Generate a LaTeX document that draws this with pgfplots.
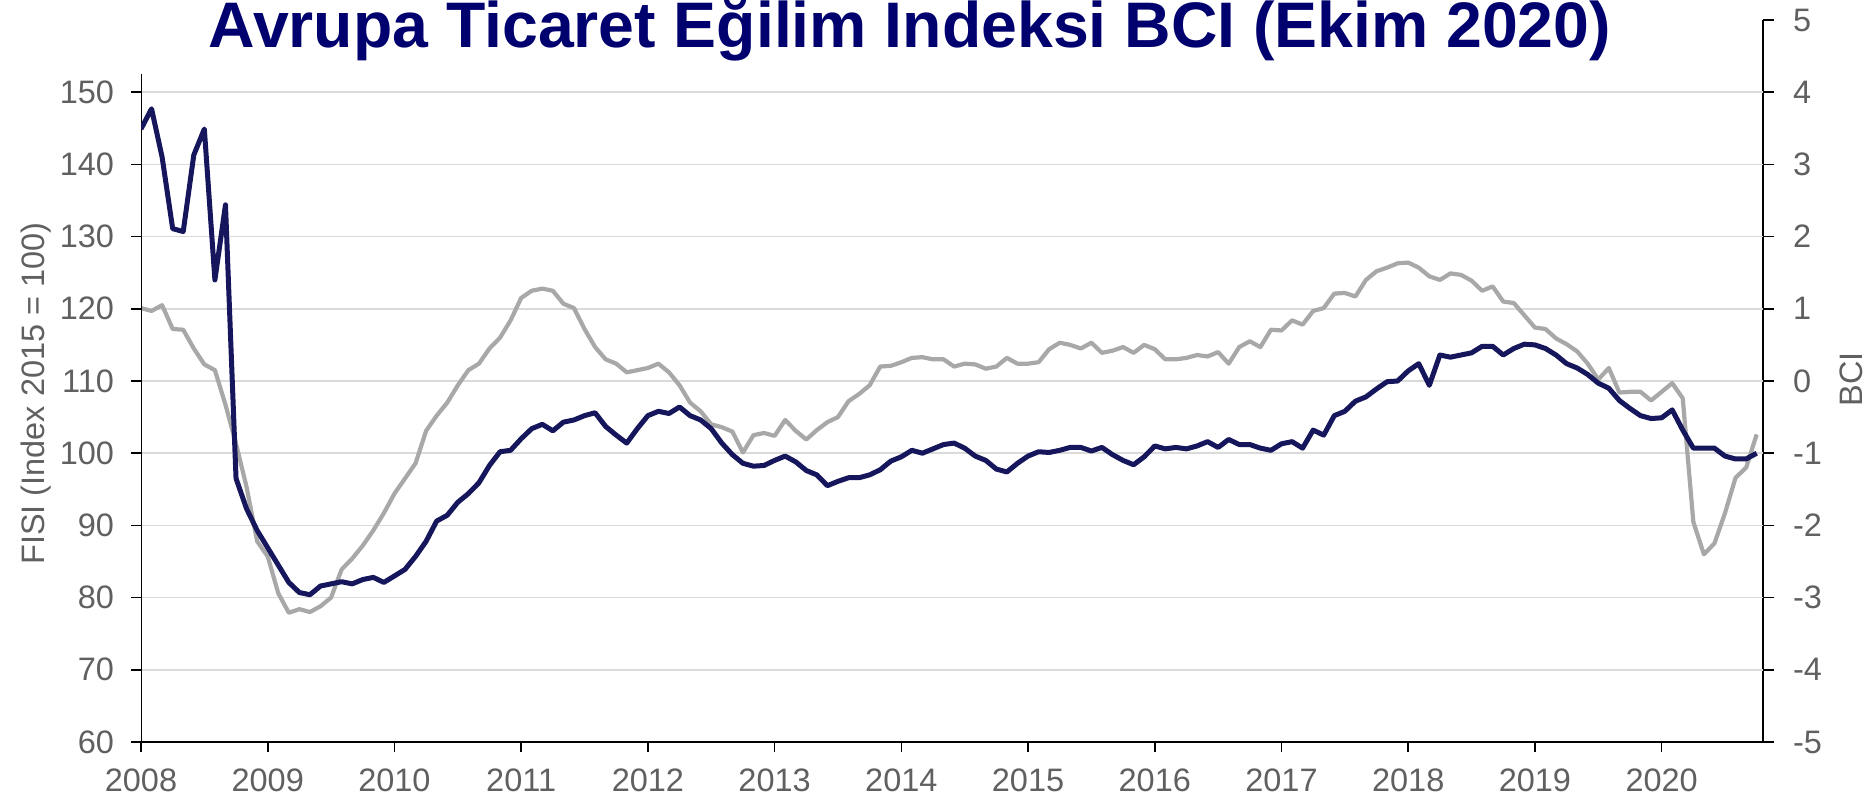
\documentclass[border=0pt]{standalone}
\usepackage{fontspec}
\setmainfont{Liberation Sans}
\usepackage{pgfplots}
\usepackage{pgfplotstable}
\pgfplotsset{compat=1.18}
\definecolor{navy}{RGB}{22,22,92}
\definecolor{bcigray}{RGB}{168,168,168}
\definecolor{gridgray}{RGB}{218,218,218}
\definecolor{ticktext}{RGB}{96,96,96}
\definecolor{titleblue}{RGB}{0,0,110}

\pgfplotstableread{
year m fisi bci
2008 1 144.9 1.01
2008 2 147.7 0.97
2008 3 141.0 1.05
2008 4 131.1 0.72
2008 5 130.7 0.71
2008 6 141.3 0.45
2008 7 144.9 0.23
2008 8 124.0 0.15
2008 9 134.4 -0.33
2008 10 96.5 -0.87
2008 11 92.3 -1.47
2008 12 89.3 -2.22
2009 1 86.9 -2.43
2009 2 84.5 -2.94
2009 3 82.1 -3.21
2009 4 80.7 -3.16
2009 5 80.4 -3.20
2009 6 81.6 -3.12
2009 7 81.9 -3.00
2009 8 82.2 -2.61
2009 9 81.9 -2.46
2009 10 82.5 -2.28
2009 11 82.8 -2.07
2009 12 82.1 -1.83
2010 1 83.0 -1.56
2010 2 83.9 -1.35
2010 3 85.7 -1.14
2010 4 87.8 -0.69
2010 5 90.6 -0.48
2010 6 91.4 -0.30
2010 7 93.2 -0.06
2010 8 94.4 0.15
2010 9 95.9 0.24
2010 10 98.3 0.45
2010 11 100.2 0.60
2010 12 100.4 0.84
2011 1 102.0 1.15
2011 2 103.4 1.25
2011 3 104.0 1.28
2011 4 103.1 1.25
2011 5 104.3 1.07
2011 6 104.6 1.01
2011 7 105.2 0.72
2011 8 105.6 0.47
2011 9 103.7 0.30
2011 10 102.5 0.24
2011 11 101.4 0.12
2011 12 103.4 0.15
2012 1 105.2 0.18
2012 2 105.8 0.24
2012 3 105.5 0.12
2012 4 106.4 -0.06
2012 5 105.2 -0.30
2012 6 104.6 -0.42
2012 7 103.4 -0.60
2012 8 101.4 -0.64
2012 9 99.8 -0.70
2012 10 98.6 -0.99
2012 11 98.2 -0.75
2012 12 98.3 -0.72
2013 1 99.0 -0.76
2013 2 99.6 -0.54
2013 3 98.8 -0.69
2013 4 97.6 -0.81
2013 5 97.0 -0.68
2013 6 95.5 -0.57
2013 7 96.1 -0.50
2013 8 96.6 -0.28
2013 9 96.6 -0.18
2013 10 97.0 -0.06
2013 11 97.7 0.20
2013 12 98.9 0.21
2014 1 99.5 0.26
2014 2 100.4 0.32
2014 3 100.0 0.33
2014 4 100.6 0.30
2014 5 101.2 0.30
2014 6 101.4 0.20
2014 7 100.7 0.24
2014 8 99.6 0.23
2014 9 99.0 0.17
2014 10 97.8 0.20
2014 11 97.4 0.32
2014 12 98.6 0.24
2015 1 99.6 0.24
2015 2 100.2 0.26
2015 3 100.1 0.44
2015 4 100.4 0.53
2015 5 100.8 0.50
2015 6 100.8 0.45
2015 7 100.3 0.53
2015 8 100.8 0.39
2015 9 99.8 0.42
2015 10 99.0 0.47
2015 11 98.4 0.39
2015 12 99.5 0.50
2016 1 101.0 0.44
2016 2 100.6 0.30
2016 3 100.8 0.30
2016 4 100.6 0.32
2016 5 101.0 0.36
2016 6 101.6 0.34
2016 7 100.8 0.40
2016 8 101.9 0.24
2016 9 101.2 0.47
2016 10 101.2 0.55
2016 11 100.7 0.47
2016 12 100.4 0.71
2017 1 101.3 0.70
2017 2 101.6 0.84
2017 3 100.7 0.78
2017 4 103.2 0.97
2017 5 102.5 1.01
2017 6 105.2 1.21
2017 7 105.8 1.22
2017 8 107.2 1.17
2017 9 107.8 1.40
2017 10 108.9 1.52
2017 11 109.9 1.57
2017 12 110.0 1.63
2018 1 111.4 1.64
2018 2 112.4 1.57
2018 3 109.4 1.45
2018 4 113.6 1.40
2018 5 113.3 1.49
2018 6 113.6 1.47
2018 7 113.9 1.39
2018 8 114.8 1.25
2018 9 114.8 1.31
2018 10 113.6 1.10
2018 11 114.5 1.08
2018 12 115.1 0.91
2019 1 115.0 0.74
2019 2 114.5 0.72
2019 3 113.6 0.59
2019 4 112.4 0.51
2019 5 111.8 0.41
2019 6 110.9 0.24
2019 7 109.7 0.02
2019 8 109.0 0.18
2019 9 107.3 -0.16
2019 10 106.2 -0.15
2019 11 105.2 -0.15
2019 12 104.8 -0.27
2020 1 104.9 -0.15
2020 2 106.0 -0.03
2020 3 103.2 -0.24
2020 4 100.7 -1.95
2020 5 100.7 -2.40
2020 6 100.7 -2.25
2020 7 99.6 -1.83
2020 8 99.2 -1.34
2020 9 99.2 -1.20
2020 10 100.0 -0.74
}\mydata

\begin{document}
\begin{tikzpicture}
\useasboundingbox (0,0) rectangle (935bp,400.5bp);

% right axis (BCI) with the grid
\begin{axis}[
  at={(70.5bp,29.5bp)}, anchor=south west,
  scale only axis, width=811bp, height=361bp,
  xmin=2008, xmax=2020.8, ymin=-5, ymax=5,
  axis x line=none, axis y line*=right,
  ytick={-5,-4,-3,-2,-1,0,1,2,3,4,5},
  yticklabels={-5,-4,-3,-2,-1,0,1,2,3,4,5},
  tick align=outside, major tick length=5.5bp,
  extra y ticks={-4,-3,-2,-1,0,1,2,3,4},
  extra y tick labels={},
  extra y tick style={ymajorgrids=true, major tick length=0pt},
  major grid style={gridgray, line width=0.8bp},
  y axis line style={black, line width=0.8bp},
  ytick style={black, line width=0.8bp},
  yticklabel style={font=\fontsize{16.3}{16}\selectfont, text=ticktext, xshift=6bp},
]
\addplot[bcigray, line width=2.1bp, line join=round] table[x expr=\thisrow{year}+(\thisrow{m}-1)/12, y=bci] {\mydata};
\end{axis}

% left axis (FISI)
\begin{axis}[
  at={(70.5bp,29.5bp)}, anchor=south west,
  scale only axis, width=811bp, height=361bp,
  xmin=2008, xmax=2020.8, ymin=60, ymax=160,
  axis x line*=bottom, axis y line*=left,
  y axis line style={draw=none},
  x axis line style={black, line width=0.8bp, -},
  xtick={2008,2009,2010,2011,2012,2013,2014,2015,2016,2017,2018,2019,2020},
  xticklabels={2008,2009,2010,2011,2012,2013,2014,2015,2016,2017,2018,2019,2020},
  ytick={60,70,80,90,100,110,120,130,140,150},
  /pgf/number format/assume math mode=true,
  tick align=outside, major tick length=5bp,
  tick style={black, line width=0.8bp},
  xticklabel style={font=\fontsize{16.3}{16}\selectfont, text=ticktext, yshift=-5bp},
  yticklabel style={font=\fontsize{16.3}{16}\selectfont, text=ticktext, xshift=-5bp},
]
\draw[black, line width=0.8bp] (axis cs:2008,60) -- (axis cs:2008,152.5);
\addplot[navy, line width=2.5bp, line join=round] table[x expr=\thisrow{year}+(\thisrow{m}-1)/12, y=fisi] {\mydata};
\end{axis}

\node[rotate=90, text=ticktext, font=\fontsize{16.3}{16}\selectfont] at (17.9bp,203.7bp) {FISI (Index 2015 = 100)};
\node[rotate=90, text=ticktext, font=\fontsize{16.3}{16}\selectfont] at (925.5bp,210.9bp) {BCI};
\node[anchor=base, text=titleblue, font=\fontsize{32.3}{33}\selectfont\bfseries] at (455bp,376.6bp) {Avrupa Ticaret Eğilim İndeksi BCI (Ekim 2020)};
\end{tikzpicture}
\end{document}
